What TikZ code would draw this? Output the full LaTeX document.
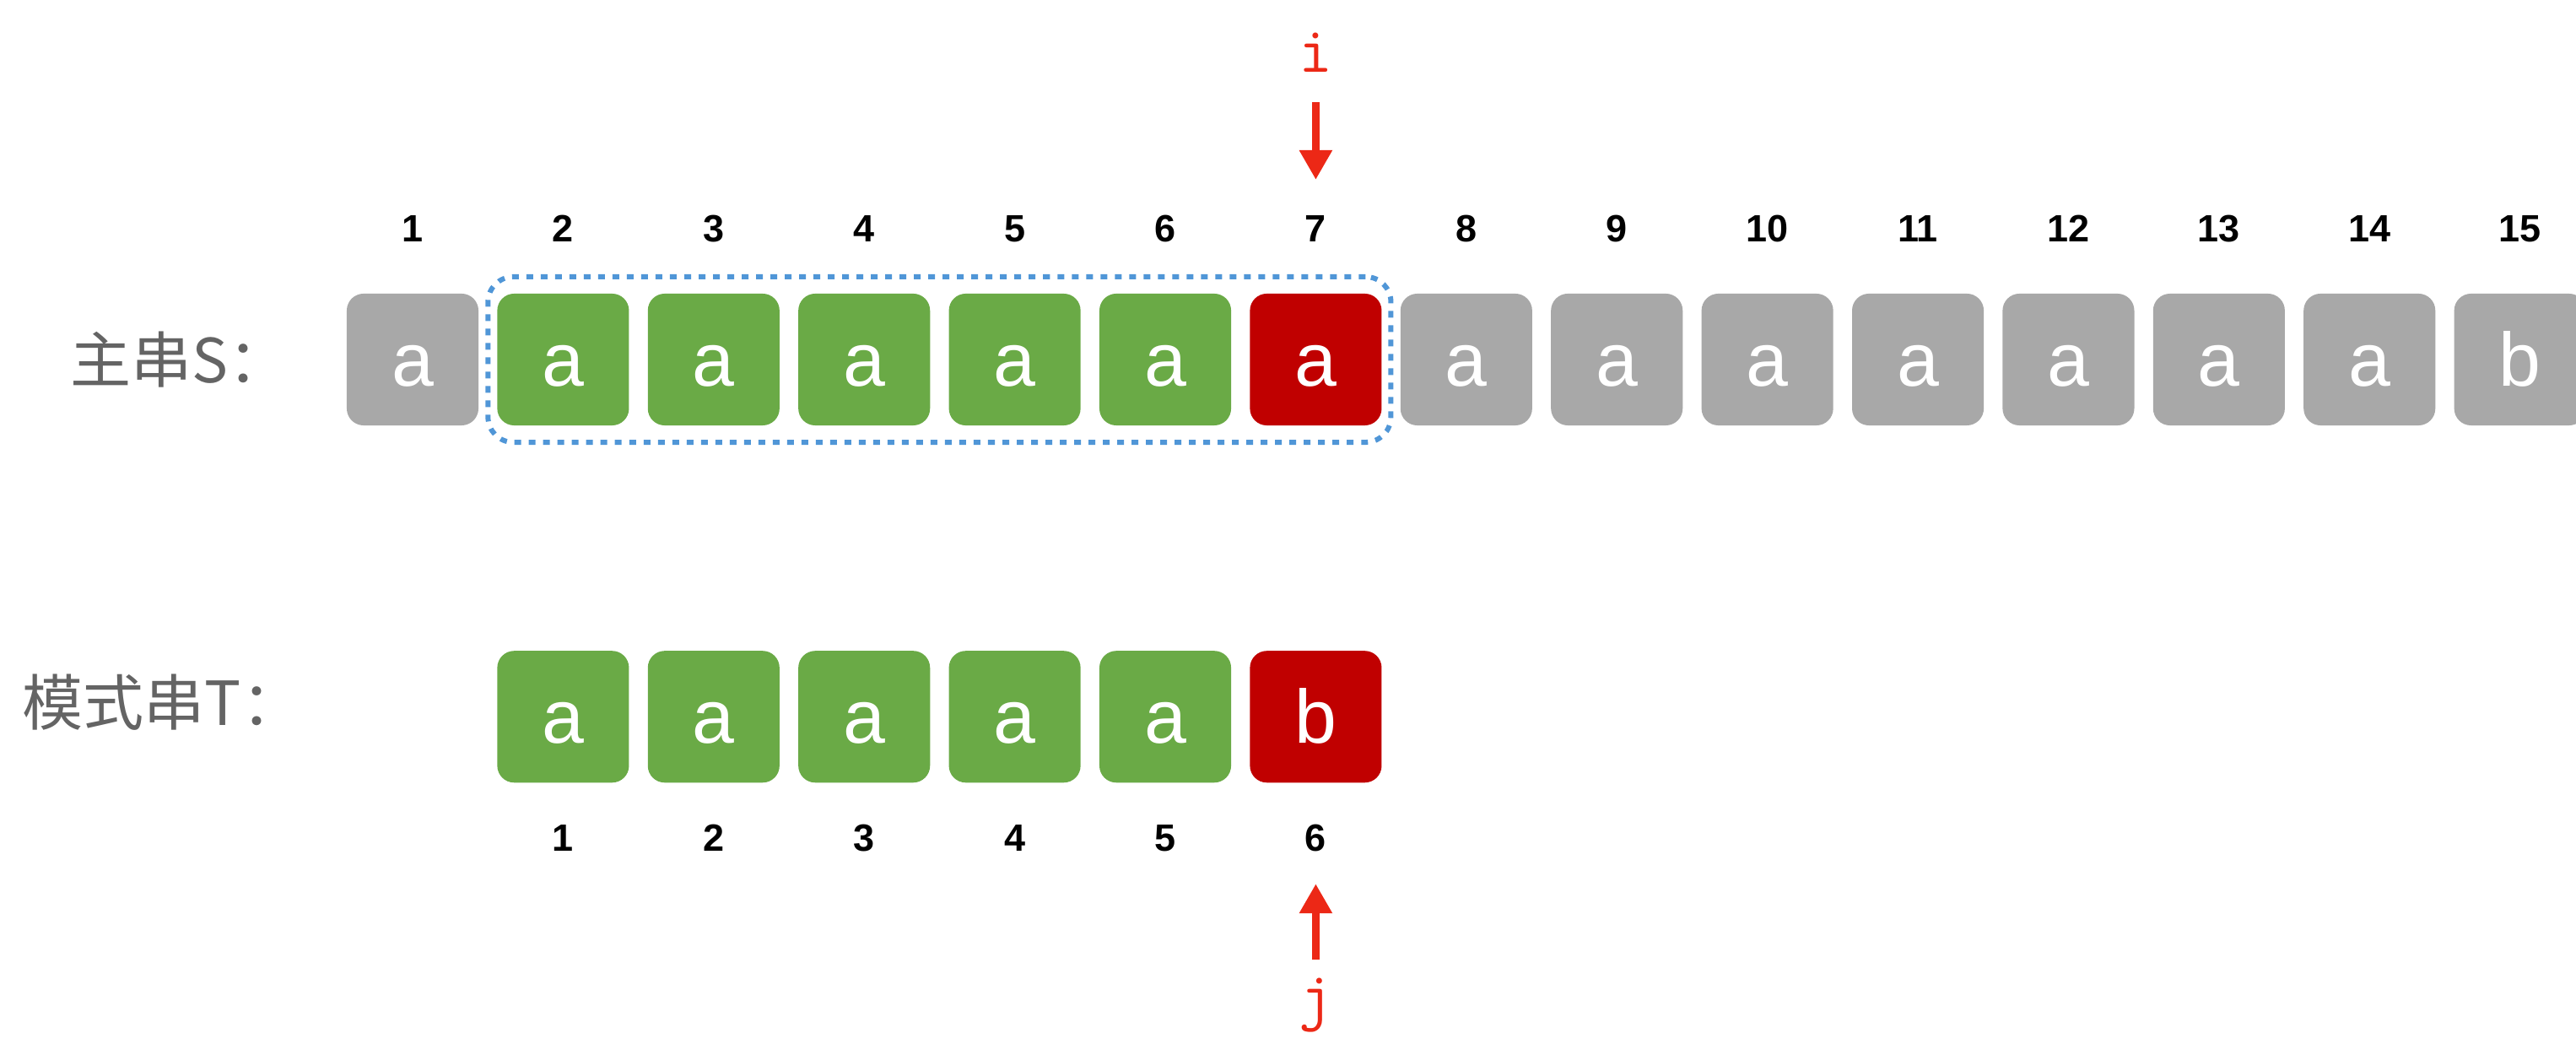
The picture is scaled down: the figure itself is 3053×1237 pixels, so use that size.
\documentclass[tikz,border=0pt]{standalone}
\usepackage{fontspec}
\setmainfont{Liberation Sans}
\newfontfamily\cjkfont{Noto Sans CJK SC}
\usetikzlibrary{arrows.meta,positioning,fit}
\definecolor{kmpGrey}{RGB}{168,168,168}
\definecolor{kmpGreen}{RGB}{106,170,70}
\definecolor{kmpRed}{RGB}{192,0,0}
\definecolor{kmpArrow}{RGB}{236,40,22}
\definecolor{kmpDots}{RGB}{80,150,215}
\definecolor{kmpLabel}{RGB}{100,100,100}
\colorlet{idlegrey}{kmpGrey}
\colorlet{matchgreen}{kmpGreen}
\colorlet{failred}{kmpRed}
\colorlet{arrowred}{kmpArrow}
\colorlet{dotblue}{kmpDots}
\colorlet{labelgrey}{kmpLabel}

\begin{document}
\begin{tikzpicture}[
  x=0.01cm,y=-0.01cm,
  node distance=0.223cm,
  cell/.style={rounded corners=0.2cm,minimum size=1.56cm,inner sep=0pt,outer sep=0pt,text=white,font=\fontsize{25.5}{30}\selectfont,text height=0.62cm,text depth=0pt},
  idle/.style={cell,fill=idlegrey},
  match/.style={cell,fill=matchgreen},
  fail/.style={cell,fill=failred},
  idx/.style={inner sep=0pt,outer sep=0pt,font=\fontsize{12.8}{15}\selectfont\bfseries},
  rowlabel/.style={anchor=west,inner sep=0pt,text=labelgrey,font=\cjkfont\fontsize{20.5}{24}\selectfont},
  ptrlabel/.style={inner sep=0pt,outer sep=0pt,text=arrowred,font=\ttfamily\fontsize{22}{26}\selectfont},
  ptr/.style={-{Triangle[length=3.5mm,width=3.7mm]},line width=0.95mm,draw=arrowred}
]
\clip (0,0) rectangle (3053,1237);
% main string S
\node[idle] (s1) at (489,426) {a};
\node[match,right=of s1] (s2) {a};
\node[match,right=of s2] (s3) {a};
\node[match,right=of s3] (s4) {a};
\node[match,right=of s4] (s5) {a};
\node[match,right=of s5] (s6) {a};
\node[fail,right=of s6] (s7) {a};
\node[idle,right=of s7] (s8) {a};
\node[idle,right=of s8] (s9) {a};
\node[idle,right=of s9] (s10) {a};
\node[idle,right=of s10] (s11) {a};
\node[idle,right=of s11] (s12) {a};
\node[idle,right=of s12] (s13) {a};
\node[idle,right=of s13] (s14) {a};
\node[idle,right=of s14] (s15) {b};
\node[rowlabel] (slabel) at (83,426) {主串S：};
% indices of S
\node[idx,above=0.61cm of s1] (n1) {1};
\node[idx,above=0.61cm of s2] (n2) {2};
\node[idx,above=0.61cm of s3] (n3) {3};
\node[idx,above=0.61cm of s4] (n4) {4};
\node[idx,above=0.61cm of s5] (n5) {5};
\node[idx,above=0.61cm of s6] (n6) {6};
\node[idx,above=0.61cm of s7] (n7) {7};
\node[idx,above=0.61cm of s8] (n8) {8};
\node[idx,above=0.61cm of s9] (n9) {9};
\node[idx,above=0.61cm of s10] (n10) {10};
\node[idx,above=0.61cm of s11] (n11) {11};
\node[idx,above=0.61cm of s12] (n12) {12};
\node[idx,above=0.61cm of s13] (n13) {13};
\node[idx,above=0.61cm of s14] (n14) {14};
\node[idx,above=0.61cm of s15] (n15) {15};
% pattern T
\node[match,below=2.67cm of s2] (t1) {a};
\node[match,right=of t1] (t2) {a};
\node[match,right=of t2] (t3) {a};
\node[match,right=of t3] (t4) {a};
\node[match,right=of t4] (t5) {a};
\node[fail,right=of t5] (t6) {b};
\node[rowlabel] (tlabel) at (26,832) {模式串T：};
\node[idx,below=0.5cm of t1] (m1) {1};
\node[idx,below=0.5cm of t2] (m2) {2};
\node[idx,below=0.5cm of t3] (m3) {3};
\node[idx,below=0.5cm of t4] (m4) {4};
\node[idx,below=0.5cm of t5] (m5) {5};
\node[idx,below=0.5cm of t6] (m6) {6};
% window + pointers
\node[draw=dotblue,line width=0.6mm,dash pattern=on 0.8mm off 0.9mm,rounded corners=0.3cm,inner xsep=0.11cm,inner ysep=0.2cm,fit=(s2)(s7)] (window) {};
\node[ptrlabel,above=1.7cm of n7] (ilabel) {i};
\node[ptrlabel,below=1.5cm of m6] (jlabel) {j};
\draw[ptr,shorten <=0.35cm,shorten >=0.43cm] (ilabel) -- (n7);
\draw[ptr,shorten <=0.22cm,shorten >=0.38cm] (jlabel) -- (m6);
\end{tikzpicture}
\end{document}
